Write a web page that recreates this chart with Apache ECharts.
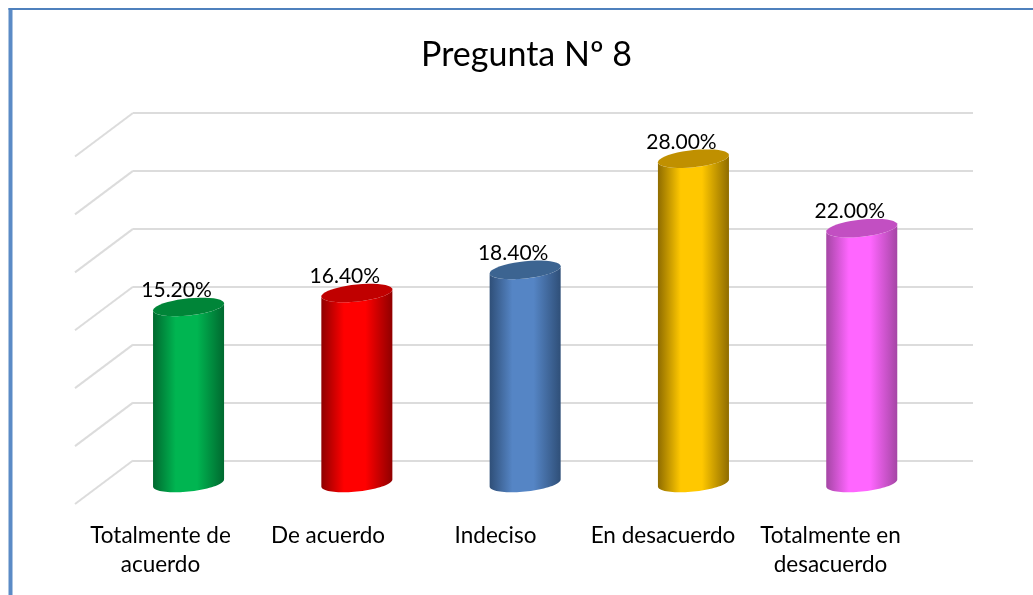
<!DOCTYPE html>
<html>
<head>
<meta charset="utf-8">
<title>Pregunta Nº 8</title>
<script src="https://cdn.jsdelivr.net/npm/echarts@6/dist/echarts.min.js"></script>
<style>
html, body { margin: 0; padding: 0; background: #fff; }
#chart { width: 1033px; height: 595px; }
</style>
</head>
<body>
<div id="chart"></div>
<script>
var categories = ['Totalmente de\nacuerdo', 'De acuerdo', 'Indeciso', 'En desacuerdo', 'Totalmente en\ndesacuerdo'];
var values = [15.2, 16.4, 18.4, 28, 22];
var bodyColors = ['#00b551', '#ff0000', '#5585c5', '#ffc800', '#ff66ff'];
var edgeColors = ['#00692f', '#8f0000', '#2f4f78', '#8f6c00', '#a546a5'];
var topColors = ['#008538', '#c00000', '#3c6491', '#c09000', '#c24fc2'];
var ticks = [0, 5, 10, 15, 20, 25, 30];

var FONT = 'Lato';
var GRID_COLOR = '#dcdcdc';

// tilted ellipse outline, from angle t0 to t1
function arcPoints(cx, cy, a, b, t0, t1) {
    var pts = [];
    for (var i = 0; i <= 40; i++) {
        var t = t0 + (t1 - t0) * i / 40;
        var dx = a * Math.cos(t);
        pts.push([cx + dx, cy + b * Math.sin(t) - dx * 0.1]);
    }
    return pts;
}

function renderBar(params, api) {
    var i = api.value(0);
    var val = api.value(1);
    var top = api.coord([i, val]);
    var base = api.coord([i, 0]);
    var a = api.size([1, 0])[0] * 0.211;
    var b = 8.6;
    var body = arcPoints(base[0], base[1], a, b, 0, Math.PI)
        .concat(arcPoints(top[0], top[1], a, b, Math.PI, 0));
    return {
        type: 'group',
        children: [{
            type: 'polygon',
            shape: { points: body },
            style: {
                fill: new echarts.graphic.LinearGradient(0, 0, 1, 0, [
                    { offset: 0, color: edgeColors[i] },
                    { offset: 0.32, color: bodyColors[i] },
                    { offset: 0.62, color: bodyColors[i] },
                    { offset: 1, color: edgeColors[i] }
                ])
            }
        }, {
            type: 'polygon',
            shape: { points: arcPoints(top[0], top[1], a, b, 0, Math.PI * 2) },
            style: { fill: topColors[i] }
        }, {
            type: 'text',
            style: {
                x: top[0] - 12,
                y: top[1] - 16.5,
                text: val.toFixed(2) + '%',
                fill: '#000',
                font: '21px ' + FONT,
                align: 'center',
                verticalAlign: 'middle'
            }
        }]
    };
}

// floor depth lines at the left of the back wall
function renderSide(params, api) {
    var p = api.coord([0, api.value(0)]);
    return {
        type: 'line',
        shape: { x1: p[0] - 58, y1: p[1] + 43.5, x2: p[0], y2: p[1] },
        style: { stroke: GRID_COLOR, lineWidth: 2 }
    };
}

var option = {
    backgroundColor: '#fff',
    animation: false,
    title: {
        text: 'Pregunta Nº 8',
        left: 521.5,
        top: 33,
        textAlign: 'center',
        textStyle: { fontFamily: FONT, fontSize: 34, fontWeight: 'normal', color: '#000' }
    },
    graphic: [
        { type: 'rect', shape: { x: 8.5, y: 8, width: 4, height: 587 }, style: { fill: '#5b8bc6' } },
        { type: 'rect', shape: { x: 8.5, y: 8, width: 1024.5, height: 2 }, style: { fill: '#4f81bd' } }
    ],
    grid: [
        { left: 133, width: 840, top: 113, height: 347.5 },  // back wall
        { left: 104.4, width: 841.5, top: 135.5, height: 347.5 },  // bars
        { left: 76.75, width: 837.5, top: 113.5, height: 391 }  // category labels
    ],
    xAxis: [
        { gridIndex: 0, type: 'category', data: categories, show: false, boundaryGap: false },
        { gridIndex: 1, type: 'category', data: categories, show: false },
        {
            gridIndex: 2,
            type: 'category',
            data: categories,
            axisLine: { show: false },
            axisTick: { show: false },
            axisLabel: { interval: 0, margin: 17, color: '#000', fontFamily: FONT, fontSize: 22.5, lineHeight: 29 }
        }
    ],
    yAxis: [
        {
            gridIndex: 0,
            type: 'value',
            min: 0,
            max: 30,
            interval: 5,
            axisLine: { show: false },
            axisTick: { show: false },
            axisLabel: { show: false },
            splitLine: { show: true, lineStyle: { color: GRID_COLOR, width: 2 } }
        },
        { gridIndex: 1, type: 'value', min: 0, max: 30, show: false, splitLine: { show: false } },
        { gridIndex: 2, type: 'value', min: 0, max: 30, show: false, splitLine: { show: false } }
    ],
    series: [
        {
            type: 'custom',
            xAxisIndex: 0,
            yAxisIndex: 0,
            silent: true,
            encode: { y: 0 },
            data: ticks,
            renderItem: renderSide
        },
        {
            type: 'custom',
            xAxisIndex: 1,
            yAxisIndex: 1,
            encode: { x: 0, y: 1 },
            data: values.map(function (v, i) { return [i, v]; }),
            renderItem: renderBar
        }
    ]
};

var chart = echarts.init(document.getElementById('chart'), null, { renderer: 'canvas' });
chart.setOption(option);
</script>
</body>
</html>
